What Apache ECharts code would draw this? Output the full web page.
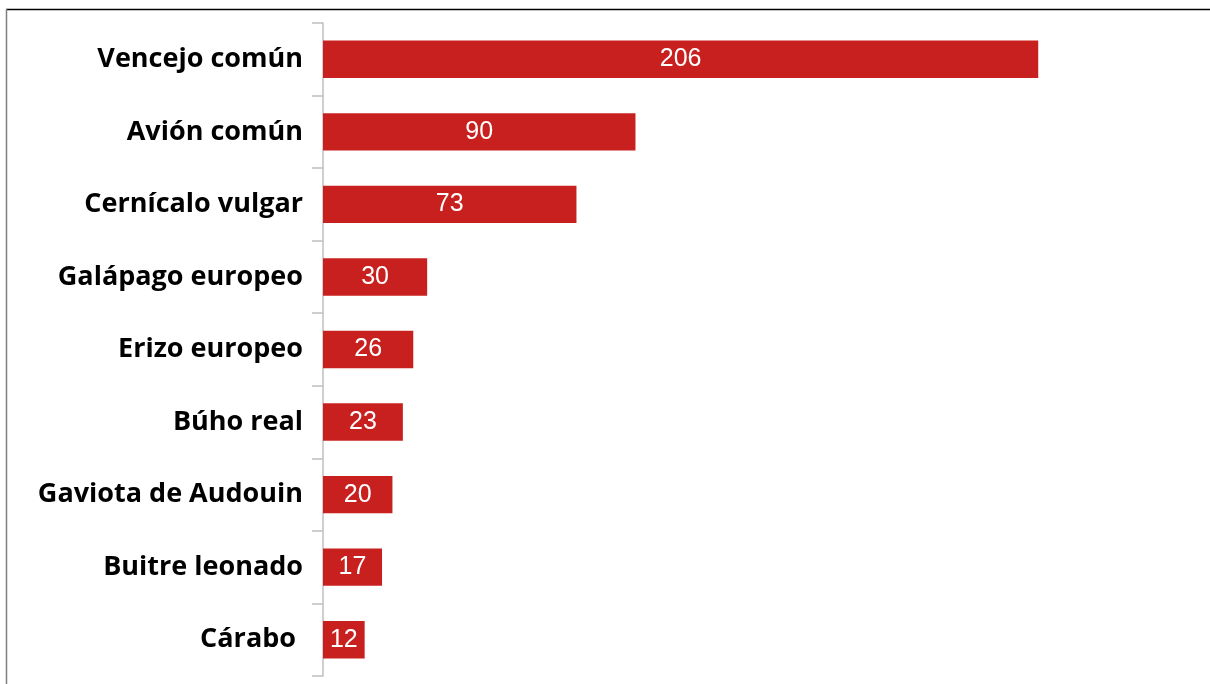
<!DOCTYPE html>
<html>
<head>
<meta charset="utf-8">
<script src="https://cdn.jsdelivr.net/npm/echarts@6/dist/echarts.min.js"></script>
<style>html,body{margin:0;padding:0;background:#fff}#c{width:1210px;height:684px}</style>
</head>
<body>
<div id="c"></div>
<script>
const categories = ["Vencejo común","Avión común","Cernícalo vulgar","Galápago europeo","Erizo europeo","Búho real","Gaviota de Audouin","Buitre leonado","Cárabo "];
const values = [206, 90, 73, 30, 26, 23, 20, 17, 12];

const chart = echarts.init(document.getElementById('c'));
chart.setOption({
  animation: false,
  graphic: [
    {type:'line', shape:{x1:6, y1:9.5, x2:1210, y2:9.5}, style:{stroke:'#000', lineWidth:1.5}},
    {type:'line', shape:{x1:6.5, y1:9, x2:6.5, y2:684}, style:{stroke:'#7f7f7f', lineWidth:1.5}}
  ],
  grid: {left: 323, right: 19, top: 23, bottom: 8, containLabel: false},
  xAxis: {type:'value', min:0, max:250, show:false},
  yAxis: {
    type:'category', inverse:true, data: categories,
    axisLine:{show:true, lineStyle:{color:'#bfbfbf', width:1.5}},
    axisTick:{show:true, length:11, lineStyle:{color:'#bfbfbf', width:1.5}},
    axisLabel:{margin:20, color:'#000', fontFamily:'Open Sans', fontWeight:'bold', fontSize:27},
    splitLine:{show:false}
  },
  series: [{
    type:'bar', data: values, barWidth:'51.5%',
    itemStyle:{color:'#C8201F'},
    label:{show:true, position:'inside', color:'#fff', fontFamily:'Liberation Sans', fontSize:25}
  }]
});
</script>
</body>
</html>
